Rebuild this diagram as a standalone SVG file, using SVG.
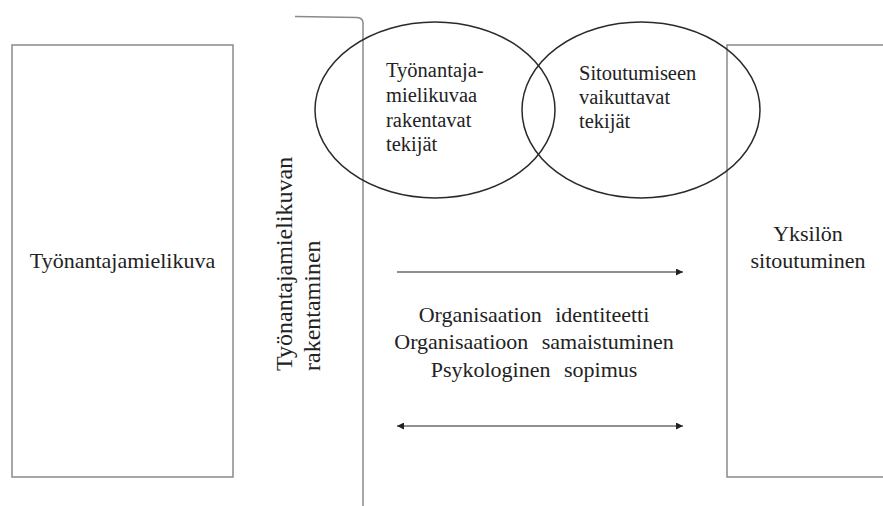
<svg xmlns="http://www.w3.org/2000/svg" width="883" height="506" viewBox="0 0 883 506">
<style>
  .box { fill: none; stroke: #8a8a8a; stroke-width: 1.5; }
  .ell { fill: none; stroke: #2a2a2a; stroke-width: 1.5; }
  .arr { fill: none; stroke: #222; stroke-width: 1.2; }
  .t { font-family: 'Liberation Serif', 'Times New Roman', serif; fill: #222; }
  .big { font-size: 22px; }
  .mid { font-size: 20.5px; }
  .ctr { text-anchor: middle; }
</style>
<defs>
  <marker id="ah" viewBox="0 0 10 10" refX="10" refY="5" markerWidth="9" markerHeight="7" markerUnits="userSpaceOnUse" orient="auto-start-reverse">
    <path d="M0,0 L10,5 L0,10 z" fill="#222"/>
  </marker>
</defs>
<rect width="883" height="506" fill="#fff"/>

<g id="tyonantajamielikuva">
  <rect class="box" x="12" y="45" width="221" height="432"/>
  <text class="t big ctr" x="122.5" y="268">Työnantajamielikuva</text>
</g>

<g id="rakentaminen">
  <path class="box" d="M295,16.5 L357,17.5 Q363,18 363,23 L363,506"/>
  <g transform="translate(292,371) rotate(-90)">
    <text class="t" style="font-size:24px" x="0" y="0">Työnantajamielikuvan</text>
    <text class="t" style="font-size:24px" x="0" y="28">rakentaminen</text>
  </g>
</g>

<g id="yksilon-sitoutuminen">
  <path class="box" d="M883,45 L727,45 L727,477 L883,477"/>
  <text class="t big ctr" x="808" y="241">Yksilön</text>
  <text class="t big ctr" x="808" y="268">sitoutuminen</text>
</g>

<g id="rakentavat-tekijat">
  <ellipse class="ell" cx="435" cy="110" rx="120" ry="88"/>
  <text class="t mid" x="386" y="77">Työnantaja-</text>
  <text class="t mid" x="386" y="102">mielikuvaa</text>
  <text class="t mid" x="386" y="126.5">rakentavat</text>
  <text class="t mid" x="386" y="151">tekijät</text>
</g>

<g id="vaikuttavat-tekijat">
  <ellipse class="ell" cx="641" cy="110" rx="119" ry="88"/>
  <text class="t mid" x="579" y="80">Sitoutumiseen</text>
  <text class="t mid" x="579" y="104">vaikuttavat</text>
  <text class="t mid" x="579" y="128">tekijät</text>
</g>

<g id="kasitteet">
  <text class="t big ctr" x="534" y="322" word-spacing="8">Organisaation identiteetti</text>
  <text class="t big ctr" x="534" y="349" word-spacing="8">Organisaatioon samaistuminen</text>
  <text class="t big ctr" x="534" y="377" word-spacing="8">Psykologinen sopimus</text>
</g>

<g id="connectors">
  <line class="arr" x1="397" y1="272" x2="683" y2="272" marker-end="url(#ah)"/>
  <line class="arr" x1="397" y1="426" x2="683" y2="426" marker-start="url(#ah)" marker-end="url(#ah)"/>
</g>
</svg>
